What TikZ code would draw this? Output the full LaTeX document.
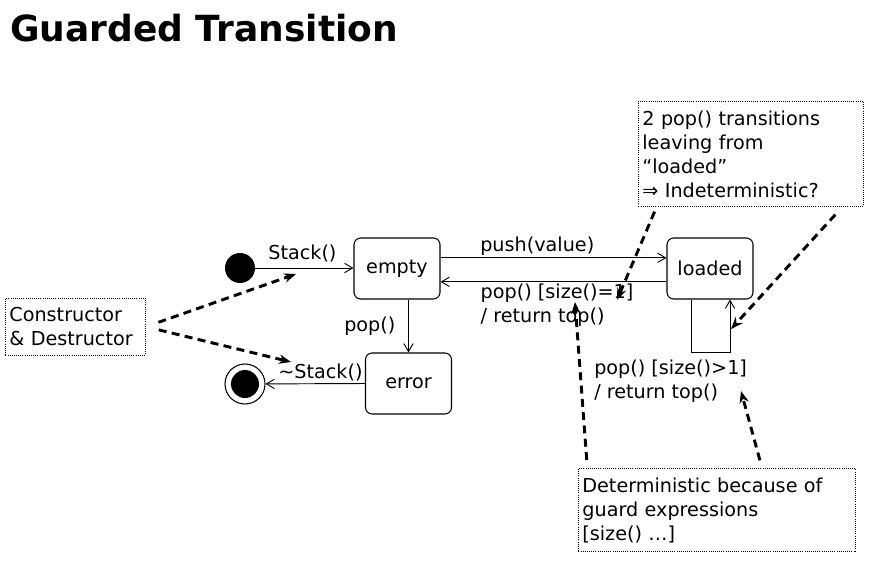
\documentclass[tikz,border=0pt]{standalone}
\usepackage{fontspec}
\setmainfont{DejaVu Sans}
\usetikzlibrary{arrows.meta, positioning}

\begin{document}
\begin{tikzpicture}[
  x=0.75pt, y=-0.75pt,
  font=\fontsize{14.4}{17.5}\selectfont,
  state/.style={draw, line width=0.8pt, rounded corners=5pt, minimum width=64.5pt, minimum height=45.75pt, inner sep=2pt},
  pseudo/.style={circle, inner sep=0pt},
  note/.style={draw, densely dotted, line width=0.6pt, align=left, inner xsep=3pt, inner ysep=6.8pt, font=\fontsize{14.4}{18}\selectfont},
  tr/.style={-{Straight Barb[length=6pt, width=7pt]}, line width=0.7pt},
  ann/.style={-{Stealth[length=9pt, width=7pt]}, line width=2.2pt, dash pattern=on 6pt off 4pt},
  lbl/.style={inner sep=1.5pt, align=left}
]
\useasboundingbox (0,0) rectangle (893,561);
\node[anchor=base west, inner sep=0pt, font=\bfseries\fontsize{27}{30}\selectfont] (ttl) at (10,41) {Guarded Transition};
% states
\node[pseudo, fill, minimum size=22.5pt] (init) at (240,268) {};
\node[state] (empty) at (397,268.5) {empty};
\node[state] (loaded) at (710,268.5) {loaded};
\node[state] (error) at (408.5,383.5) {error};
\node[pseudo, draw, line width=0.8pt, minimum size=30pt] (fin) at (245,384) {};
\fill (fin.center) circle[radius=10.5pt];
% transitions
\draw[tr] (init) -- (init -| empty.west) node[lbl, above=3pt, pos=0.48] {Stack()};
\draw[tr] ([yshift=8pt]empty.east) -- ([yshift=8pt]loaded.west)
  node[lbl, anchor=south west, pos=0.165] {push(value)};
\draw[tr] ([yshift=-10pt]loaded.west) -- ([yshift=-10pt]empty.east)
  node[lbl, anchor=north west, pos=0.833] {pop() [size()=1]\\/ return top()};
\draw[tr] (empty.south -| error) -- (error.north) node[lbl, left=8pt, midway] {pop()};
\draw[tr] (error.west) -- (fin) node[lbl, anchor=south east, pos=0] {\textasciitilde Stack()};
\draw[tr] ([xshift=-14.25pt]loaded.south) -- ++(0,53) -| ([xshift=15pt]loaded.south);
\node[lbl, anchor=north west] (self) at (592,358) {pop() [size()>1]\\/ return top()};
% notes
\node[note, anchor=north west, text width=99pt] (cd) at (5,298) {Constructor\\\& Destructor};
\node[note, anchor=north west, text width=162.75pt] (ind) at (638,101) {2 pop() transitions\\leaving from\\“loaded”\\⇒ Indeterministic?};
\node[note, anchor=north west, text width=201.75pt] (det) at (578,468) {Deterministic because of\\guard expressions\\{[}size() …{]}};
\coordinate (c1) at (296,274);
\coordinate (c2) at (291,362);
\coordinate (i1) at (617,300);
\coordinate (i2) at (731,329);
\coordinate (d1) at (575,302);
\coordinate (d2) at (741,391);
\draw[ann, shorten <=10pt] (cd.east) -- (c1);
\draw[ann, shorten <=10pt] (cd.east) -- (c2);
\draw[ann, shorten <=4pt] ([xshift=14pt]ind.south west) -- (i1);
\draw[ann, shorten <=8pt] ([xshift=-16pt]ind.south east) -- (i2);
\draw[ann, shorten <=6pt] ([xshift=7pt]det.north west) -- (d1);
\draw[ann, shorten <=6pt] ([xshift=138pt]det.north west) -- (d2);
\end{tikzpicture}
\end{document}
